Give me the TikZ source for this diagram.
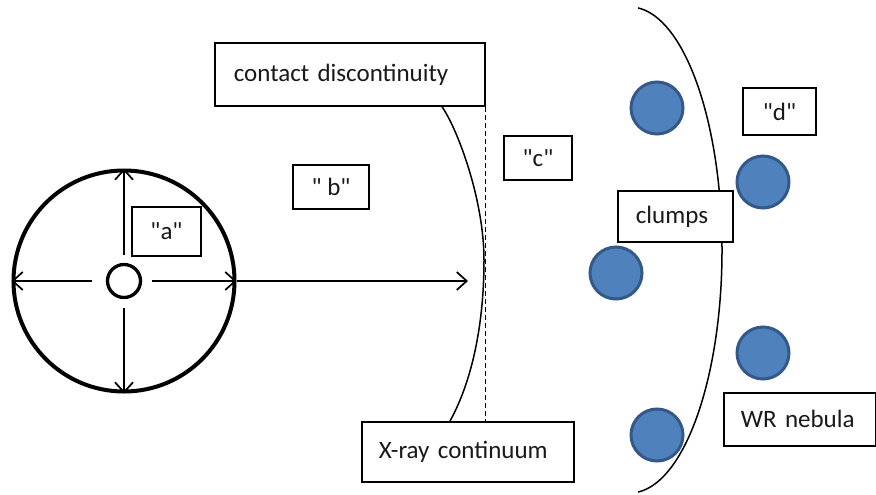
\documentclass[tikz,border=0pt]{standalone}
\usepackage{fontspec}
\setmainfont{Carlito}[Ligatures=TeXOff]
\usetikzlibrary{arrows.meta}
\definecolor{clumpfill}{RGB}{79,129,189}
\definecolor{clumpedge}{RGB}{52,88,135}
\begin{document}
\begin{tikzpicture}[x=1pt,y=-1pt,
  box/.style={draw=black, line width=1.7pt, fill=white, inner sep=0pt,
    font=\fontsize{25}{30}\selectfont, text=black!90},
  lbox/.style={box, anchor=north west, align=left},
  arr/.style={line width=1.7pt, -{Straight Barb[length=10pt,width=18pt,line width=1.7pt]}},
  clump/.style={circle, fill=clumpfill, draw=clumpedge, line width=3pt,
    minimum size=52pt, inner sep=0pt},
  thin/.style={line width=1.5pt}]
\useasboundingbox (0,0) rectangle (876,495);

% star wind and central star
\node[circle, draw, line width=4pt, minimum size=221pt, inner sep=0pt] (wind) at (124,281) {};
\node[circle, draw, line width=3.3pt, minimum size=33pt, inner sep=0pt] (core) at (124,281) {};

\coordinate (cu) at (124,255);
\coordinate (cdn) at (124,308);
\coordinate (cl) at (92,281);
\coordinate (cr) at (152,281);
\coordinate (shock) at (468,281);
\draw[arr] (cu) -- (wind.north);
\draw[arr] (cdn) -- (wind.south);
\draw[arr] (cl) -- (wind.west);
\draw[arr] (cr) -- (wind.east);
\draw[arr] (wind.east) -- (shock);

% labels boxes
\node[lbox, minimum height=63pt, text width=232pt, inner xsep=19pt] (cd) at (214,42) {contact discontinuity};
\node[lbox, minimum height=60pt, text width=178pt, inner xsep=17pt] (xray) at (361,421) {X-ray continuum};

% contact discontinuity curve and dashed line
\draw[thin, dash pattern=on 5pt off 3pt] (cd.south east) -- (xray.north -| cd.south east);
\draw[thin] ([xshift=228pt]cd.south west) .. controls (458,130) and (484,200) .. (484,260)
  .. controls (484,330) and (470,385) .. (450,421);

\node[box, minimum width=69pt, minimum height=49pt] (a) at (166.5,231.5) {"a"};
\node[box, minimum width=76pt, minimum height=44pt] (b) at (331,187) {" b"};
\node[box, minimum width=68pt, minimum height=44pt] (c) at (538,158) {"c"};

% WR nebula shell
\draw[thin] (630,250) ++(85:92 and 243) arc[start angle=85, end angle=-85, x radius=92, y radius=243];

\node[lbox, minimum height=51pt, text width=79pt, inner xsep=18pt] (clumps) at (617,190) {clumps};
\node[box, minimum width=73pt, minimum height=47pt] (d) at (779.5,111.5) {"d"};
\node[lbox, minimum height=53pt, text width=118pt, inner xsep=17pt] (wr) at (723,392) {WR nebula};

% clumps
\node[clump] (k1) at (657,108) {};
\node[clump] (k2) at (763,182) {};
\node[clump] (k3) at (616,273) {};
\node[clump] (k4) at (763,353) {};
\node[clump] (k5) at (657,435) {};
\end{tikzpicture}
\end{document}
